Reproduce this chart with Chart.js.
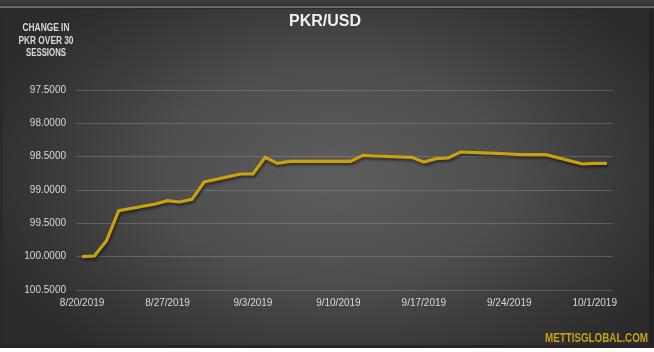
<!DOCTYPE html>
<html>
<head>
<meta charset="utf-8">
<script src="https://cdn.jsdelivr.net/npm/chart.js@4.4.0/dist/chart.umd.min.js"></script>
<style>
html,body{margin:0;padding:0;background:#ffffff;}
#wrap{width:654px;height:352px;position:relative;}
canvas{display:block;}
</style>
</head>
<body>
<div id="wrap"><canvas id="c" width="654" height="352"></canvas></div>
<script>
// ---- data ----
const dates = ["2019-08-20","2019-08-21","2019-08-22","2019-08-23","2019-08-26","2019-08-27","2019-08-28","2019-08-29","2019-08-30",
  "2019-09-02","2019-09-03","2019-09-04","2019-09-05","2019-09-06","2019-09-11","2019-09-12","2019-09-13",
  "2019-09-16","2019-09-17","2019-09-18","2019-09-19","2019-09-20","2019-09-23","2019-09-24","2019-09-25","2019-09-26","2019-09-27",
  "2019-09-30","2019-10-01","2019-10-02"];
const pkrUsd = [100.00,99.99,99.76,99.31,99.21,99.16,99.18,99.14,98.88,
  98.76,98.76,98.51,98.60,98.57,98.57,98.48,98.49,
  98.51,98.58,98.53,98.52,98.43,98.45,98.46,98.47,98.47,98.47,
  98.61,98.60,98.60];
const xTickDates = ["2019-08-20","2019-08-27","2019-09-03","2019-09-10","2019-09-17","2019-09-24","2019-10-01"];
const yTicks = [97.5,98.0,98.5,99.0,99.5,100.0,100.5];
const titleText = "PKR/USD";
const sideText = ["CHANGE IN","PKR OVER 30","SESSIONS"];
const sourceText = "METTISGLOBAL.COM";

// ---- helpers ----
const DAY = 86400000;
const baseT = Date.UTC(2019,7,20);
function dayOf(s){const p=s.split("-").map(Number);return Math.round((Date.UTC(p[0],p[1]-1,p[2])-baseT)/DAY);}
function fmtDay(d){const t=new Date(baseT+d*DAY);return (t.getUTCMonth()+1)+"/"+t.getUTCDate()+"/"+t.getUTCFullYear();}
const points = dates.map((d,i)=>({x:dayOf(d),y:pkrUsd[i]}));
const xTickVals = xTickDates.map(dayOf);

const bgPlugin = {
  id:"bg",
  beforeDraw(chart){
    const ctx=chart.ctx, W=chart.width, H=chart.height;
    ctx.save();
    ctx.fillStyle="#ffffff"; ctx.fillRect(0,0,W,H);
    ctx.fillStyle="#2a2a2a"; ctx.fillRect(0,0,W,348);
    ctx.fillStyle="#3a3a3a"; ctx.fillRect(0,0,W,5);
    ctx.fillStyle="#6a6a6a"; ctx.fillRect(0,6,W,2);
    ctx.beginPath(); ctx.rect(3,9,W-8,336); ctx.clip();
    ctx.translate(335,175); ctx.scale(1,0.62);
    const g=ctx.createRadialGradient(0,0,0,0,0,380);
    g.addColorStop(0,"#5d5d5d");
    g.addColorStop(0.45,"#4e4e4e");
    g.addColorStop(0.8,"#363636");
    g.addColorStop(1,"#2b2b2b");
    ctx.fillStyle=g; ctx.fillRect(-400,-400,800,800);
    ctx.restore();
    ctx.save();
    ctx.fillStyle="#222222"; ctx.fillRect(W-5,9,5,339);
    ctx.fillStyle="#262626"; ctx.fillRect(0,345,W,3);
    ctx.restore();
  },
  beforeDatasetsDraw(chart){
    const ctx=chart.ctx; ctx.save();
    ctx.shadowColor="rgba(0,0,0,0.55)"; ctx.shadowBlur=3; ctx.shadowOffsetX=1; ctx.shadowOffsetY=2;
  },
  afterDatasetsDraw(chart){ chart.ctx.restore(); },
  afterDraw(chart){
    const ctx=chart.ctx; ctx.save();
    ctx.textAlign="center"; ctx.textBaseline="middle";
    ctx.fillStyle="#f0f0f0";
    ctx.font="bold 16px 'Liberation Sans', Arial, sans-serif";
    ctx.fillText(titleText,325,22,76);
    ctx.fillStyle="#d9d9d9";
    ctx.font="bold 10px 'Liberation Sans', Arial, sans-serif";
    const ys=[28,41,53], ws=[47,55,40];
    sideText.forEach((t,i)=>ctx.fillText(t,46,ys[i],ws[i]));
    ctx.textAlign="left";
    ctx.fillStyle="#c9a21c";
    ctx.font="bold 13px 'Liberation Sans', Arial, sans-serif";
    ctx.fillText(sourceText,545,338,103);
    ctx.restore();
  }
};

new Chart(document.getElementById("c"),{
  type:"line",
  data:{datasets:[{
    data:points,
    borderColor:"#c9a10f",
    borderWidth:3.2,
    pointRadius:0,
    tension:0,
    fill:false
  }]},
  options:{
    responsive:false,
    animation:false,
    devicePixelRatio:1,
    layout:{padding:{left:0,right:41,top:90,bottom:0}},
    plugins:{legend:{display:false},tooltip:{enabled:false},title:{display:false}},
    scales:{
      x:{
        type:"linear",
        min:-0.5,max:43.5,
        afterBuildTicks(s){s.ticks=xTickVals.map(v=>({value:v}));},
        afterFit(s){s.height=62;},
        grid:{display:false,drawTicks:false},
        border:{display:false},
        ticks:{color:"#d9d9d9",font:{size:10,family:"'Liberation Sans', Arial, sans-serif"},padding:7,maxRotation:0,autoSkip:false,callback:v=>fmtDay(v)}
      },
      y:{
        reverse:true,
        min:97.5,max:100.5,
        afterBuildTicks(s){s.ticks=yTicks.map(v=>({value:v}));},
        afterFit(s){s.width=76;},
        grid:{color:"rgba(190,190,190,0.27)",lineWidth:1,drawTicks:false},
        border:{display:false},
        ticks:{color:"#d9d9d9",font:{size:10,family:"'Liberation Sans', Arial, sans-serif"},padding:10,callback:v=>Number(v).toFixed(4)}
      }
    }
  },
  plugins:[bgPlugin]
});
</script>
</body>
</html>
